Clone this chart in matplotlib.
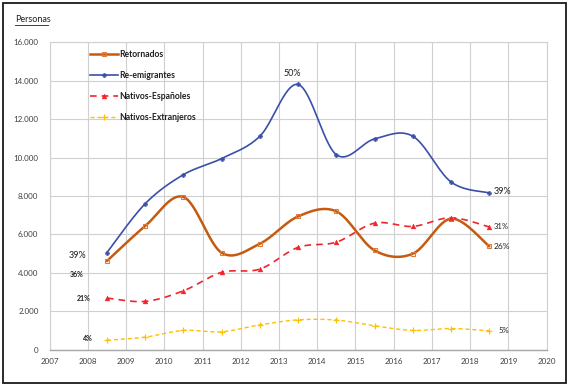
import numpy as np
import matplotlib
matplotlib.use("Agg")
import matplotlib.pyplot as plt
from matplotlib.lines import Line2D
from matplotlib.patches import Rectangle

plt.rcParams['font.family'] = ['Lato', 'DejaVu Sans']

years = [2008.5, 2009.5, 2010.5, 2011.5, 2012.5, 2013.5, 2014.5, 2015.5, 2016.5, 2017.5, 2018.5]
retornados = [4620, 6440, 7950, 5050, 5520, 6940, 7200, 5170, 5000, 6820, 5380]
reemigrantes = [5060, 7600, 9110, 9950, 11110, 13800, 10150, 10970, 11110, 8730, 8160]
nativos_esp = [2690, 2520, 3070, 4030, 4200, 5330, 5600, 6590, 6420, 6870, 6390]
nativos_ext = [500, 660, 1010, 940, 1300, 1560, 1550, 1250, 1010, 1110, 990]

series_names = ['Retornados', 'Re-emigrantes', 'Nativos-Españoles', 'Nativos-Extranjeros']
x_ticks = list(range(2007, 2021))
y_ticks = list(range(0, 16001, 2000))
y_tick_labels = ['0', '2.000', '4.000', '6.000', '8.000', '10.000', '12.000', '14.000', '16.000']

start_labels = ['36%', '39%', '21%', '4%']
end_labels = ['26%', '39%', '31%', '5%']
peak_label = '50%'


def smooth(xs, ys, n=30):
    xs = np.asarray(xs, float)
    ys = np.asarray(ys, float)
    P = np.column_stack([xs, ys])
    out = []
    for i in range(len(P) - 1):
        p0 = P[i - 1] if i > 0 else P[i]
        p1 = P[i]
        p2 = P[i + 1]
        p3 = P[i + 2] if i + 2 < len(P) else P[i + 1]
        c1 = p1 + (p2 - p0) / 6.0
        c2 = p2 - (p3 - p1) / 6.0
        t = np.linspace(0, 1, n, endpoint=(i == len(P) - 2))[:, None]
        b = ((1 - t) ** 3) * p1 + 3 * ((1 - t) ** 2) * t * c1 + 3 * (1 - t) * t ** 2 * c2 + t ** 3 * p2
        out.append(b)
    out = np.vstack(out)
    return out[:, 0], out[:, 1]


fig = plt.figure(figsize=(5.7, 3.87), dpi=100)
ax = fig.add_axes([0.087, 0.096, 0.872, 0.795])

styles = [
    dict(color='#C55A11', lw=1.8, ls='-', marker='s', ms=3.2, mfc='none', mec='#E07B39', mew=0.8),
    dict(color='#3A4FA8', lw=1.2, ls='-', marker='P', ms=3.2, mfc='#3A4FA8', mec='#3A4FA8', mew=0.3),
    dict(color='#F0242C', lw=1.2, ls=(0, (4, 3)), marker='^', ms=3.5, mfc='#F0242C', mec='#F0242C', mew=0.3),
    dict(color='#FFC000', lw=1.0, ls=(0, (3, 2)), marker='+', ms=4.5, mfc='#FFC000', mec='#FFC000', mew=0.9),
]
data = [retornados, reemigrantes, nativos_esp, nativos_ext]

handles = []
for vals, st, name in zip(data, styles, series_names):
    sx, sy = smooth(years, vals)
    ax.plot(sx, sy, color=st['color'], lw=st['lw'], ls=st['ls'], zorder=3, solid_capstyle='round')
    ax.plot(years, vals, ls='none', marker=st['marker'], ms=st['ms'], mfc=st['mfc'],
            mec=st['mec'], mew=st['mew'], zorder=4)
    handles.append(Line2D([0], [0], color=st['color'], lw=st['lw'], ls=st['ls'],
                          marker=st['marker'], ms=st['ms'], mfc=st['mfc'], mec=st['mec'], mew=st['mew']))

ax.set_xlim(2007, 2020)
ax.set_ylim(0, 16000)
ax.set_xticks(x_ticks)
ax.set_xticklabels([str(v) for v in x_ticks])
ax.set_yticks(y_ticks)
ax.set_yticklabels(y_tick_labels)
ax.tick_params(axis='both', labelsize=5.8, colors='#404040', length=0, pad=6)
ax.tick_params(axis='y', pad=8)
ax.grid(True, color='#D0D0D0', lw=0.8)
ax.set_axisbelow(True)
for s in ['top', 'right']:
    ax.spines[s].set_color('#D0D0D0')
    ax.spines[s].set_linewidth(0.8)
ax.spines['left'].set_color('#D0D0D0')
ax.spines['left'].set_linewidth(0.8)
ax.spines['bottom'].set_color('#A6A6A6')
ax.spines['bottom'].set_linewidth(1.0)

leg = ax.legend(handles, series_names, loc='upper left', bbox_to_anchor=(0.07, 0.995),
                frameon=False, fontsize=6.2, handlelength=3.2, handletextpad=0.1,
                labelspacing=1.42, borderaxespad=0.3)
for t in leg.get_texts():
    t.set_fontweight('bold')
    t.set_color('#202020')

# percentage annotations
ax.annotate(start_labels[1], (years[0], reemigrantes[0]), xytext=(-21, -2), textcoords='offset points',
            fontsize=6.5, ha='center', va='center', color='#202020')
ax.annotate(start_labels[0], (years[0], retornados[0]), xytext=(-22, -10), textcoords='offset points',
            fontsize=5, ha='center', va='center', color='#202020', fontweight='bold')
ax.annotate(start_labels[2], (years[0], nativos_esp[0]), xytext=(-17, 0), textcoords='offset points',
            fontsize=5, ha='center', va='center', color='#202020', fontweight='bold')
ax.annotate(start_labels[3], (years[0], nativos_ext[0]), xytext=(-14, 1), textcoords='offset points',
            fontsize=5, ha='center', va='center', color='#202020', fontweight='bold')
ax.annotate(peak_label, (years[5], reemigrantes[5]), xytext=(-4, 8), textcoords='offset points',
            fontsize=6.5, ha='center', va='center', color='#202020')
ax.annotate(end_labels[1], (years[-1], reemigrantes[-1]), xytext=(3, 1), textcoords='offset points',
            fontsize=6.5, ha='left', va='center', color='#202020')
ax.annotate(end_labels[2], (years[-1], nativos_esp[-1]), xytext=(3, 0), textcoords='offset points',
            fontsize=5.5, ha='left', va='center', color='#202020')
ax.annotate(end_labels[0], (years[-1], retornados[-1]), xytext=(3, 0), textcoords='offset points',
            fontsize=6, ha='left', va='center', color='#202020')
ax.annotate(end_labels[3], (years[-1], nativos_ext[-1]), xytext=(7, 0), textcoords='offset points',
            fontsize=5.5, ha='left', va='center', color='#202020')

# title "Personas" underlined
fig.text(15 / 570, 1 - 19 / 387, 'Personas', fontsize=6.5, color='#202020', ha='left', va='center')
fig.add_artist(Line2D([15 / 570, 48 / 570], [1 - 25 / 387, 1 - 25 / 387], color='#202020', lw=0.6))

# outer border
fig.add_artist(Rectangle((3 / 570, 4 / 387), 563 / 570, 380 / 387, fill=False, ec='#1a1a1a', lw=1.3,
                         transform=fig.transFigure))

fig.savefig('out.png', dpi=100)
